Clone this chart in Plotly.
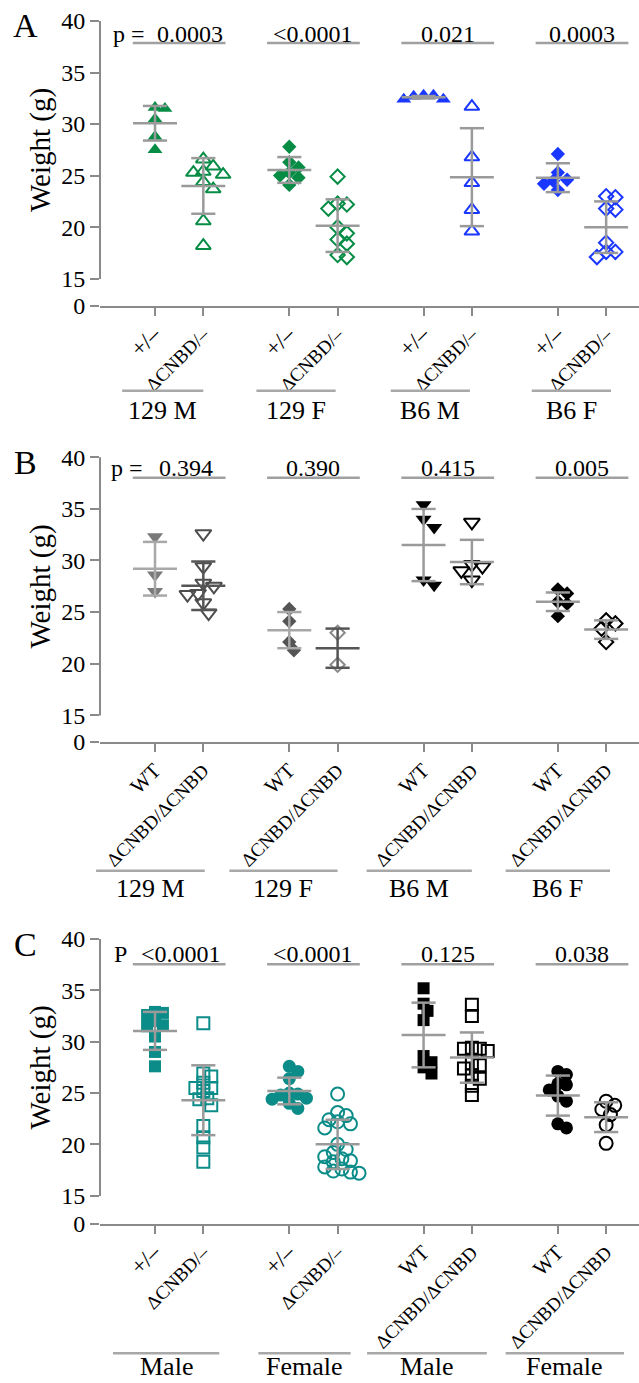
import plotly.graph_objects as go

FIG_W, FIG_H = 639, 1383

# ---------------- data ----------------
# Panel A
A_groups = ["129 M", "129 F", "B6 M", "B6 F"]
A_ticks = ["+/–", "ΔCNBD/–"] * 4
A_prefix = "p ="
A_pvals = ["0.0003", "<0.0001", "0.021", "0.0003"]
A_129M_het = [31.5, 31.6, 30.5, 28.8, 27.5]
A_129M_cnbd = [26.6, 25.4, 25.1, 25.9, 25.3, 24.4, 23.7, 20.6, 18.2]
A_129F_het = [27.8, 26.3, 25.8, 25.3, 25.0, 24.8, 24.1]
A_129F_cnbd = [24.9, 22.2, 21.8, 22.3, 19.4, 20.0, 18.4, 18.8, 17.1, 17.3]
A_B6M_het = [32.8, 32.7, 32.8, 32.4, 32.4]
A_B6M_cnbd = [31.7, 26.8, 24.3, 21.7, 19.6]
A_B6F_het = [27.1, 25.3, 24.5, 24.2, 24.6, 23.6]
A_B6F_cnbd = [22.9, 23.0, 21.7, 21.8, 18.5, 17.6, 17.1, 17.6]
A_means = [30.08, 24.0, 25.55, 20.15, 32.6, 24.85, 24.8, 20.0]
A_sds = [1.68, 2.7, 1.25, 2.55, 0.12, 4.75, 1.4, 2.5]

# Panel B
B_groups = ["129 M", "129 F", "B6 M", "B6 F"]
B_ticks = ["WT", "ΔCNBD/ΔCNBD"] * 4
B_prefix = "p ="
B_pvals = ["0.394", "0.390", "0.415", "0.005"]
B_129M_wt = [32.3, 28.6, 27.0]
B_129M_cnbd = [32.6, 29.4, 27.5, 27.8, 26.7, 26.8, 25.9, 24.9]
B_129F_wt = [25.3, 24.1, 22.1, 21.3]
B_129F_cnbd = [23.0, 19.9]
B_B6M_wt = [35.4, 34.0, 33.2, 27.6, 28.1]
B_B6M_cnbd = [33.7, 29.4, 29.6, 29.0, 28.1]
B_B6F_wt = [27.2, 26.8, 26.0, 25.8, 24.6]
B_B6F_cnbd = [23.9, 24.2, 23.4, 22.1]
B_means = [29.2, 27.55, 23.25, 21.5, 31.5, 29.85, 26.0, 23.3]
B_sds = [2.6, 2.35, 1.75, 1.9, 3.5, 2.15, 0.9, 0.9]

# Panel C
C_groups = ["Male", "Female", "Male", "Female"]
C_ticks = ["+/–", "ΔCNBD/–", "+/–", "ΔCNBD/–", "WT", "ΔCNBD/ΔCNBD", "WT", "ΔCNBD/ΔCNBD"]
C_prefix = "P"
C_pvals = ["<0.0001", "<0.0001", "0.125", "0.038"]
C_male_het = [32.9, 32.6, 32.8, 32.0, 31.6, 31.5, 30.5, 29.0, 27.6]
C_male_cnbd = [31.8, 26.9, 26.6, 25.5, 25.2, 25.5, 26.0, 24.4, 24.5, 23.8, 21.8, 20.7, 19.7, 18.3]
C_female_het = [27.6, 27.1, 26.4, 25.0, 24.9, 24.5, 24.4, 24.0, 23.5, 24.8]
C_female_cnbd = [24.9, 23.1, 22.8, 22.4, 22.2, 22.0, 21.6, 20.0, 19.5, 19.2, 18.8, 18.6,
                 18.4, 18.3, 17.8, 17.6, 17.4, 17.2, 17.3]
C_male_wt = [35.2, 33.7, 33.0, 32.1, 28.6, 28.0, 27.5, 26.9]
C_male_dd = [33.6, 32.5, 29.3, 29.4, 29.3, 29.1, 27.7, 27.9, 27.4, 26.7, 26.4, 25.7, 24.8]
C_female_wt = [26.8, 27.1, 25.8, 25.9, 25.3, 24.7, 24.2, 21.6, 22.0]
C_female_dd = [24.2, 23.8, 23.4, 22.9, 21.9, 20.1]
C_means = [31.05, 24.3, 25.2, 20.0, 30.65, 28.45, 24.75, 22.65]
C_sds = [1.85, 3.4, 1.3, 2.4, 3.15, 2.45, 1.95, 1.45]

# ---------------- styling ----------------
SERIF = "Liberation Serif, Times New Roman, serif"
AXC = "#8a8a8a"
ERRC = "#9a9a9a"
GREEN = "#078c46"
BLUE = "#1a37ff"
TEAL = "#0b8c88"

XMIN, XMAX = -0.139, 11.02
X_DOM = [100 / FIG_W, 1.0]
PX_PER_X = FIG_W * (X_DOM[1] - X_DOM[0]) / (XMAX - XMIN)


def xpos(i):
    return 1 + (i // 2) * 2.78 + (i % 2)


def px_to_x(px):
    return XMIN + (px - X_DOM[0] * FIG_W) / PX_PER_X


SHORT_TICK_SIZE = {"+/–": 23, "WT": 21}


def tick_html(t):
    # the short labels are drawn a little larger, as in the original
    if t in SHORT_TICK_SIZE:
        return '<span style="font-size:%dpx">%s</span>' % (SHORT_TICK_SIZE[t], t)
    return t


def swarm_offsets(vals, ppu, mw):
    d = 0.66 * mw
    order = sorted(range(len(vals)), key=lambda i: -vals[i])
    cands = [0.0]
    for j in range(1, 40):
        cands += [j * d * 0.5, -j * d * 0.5]
    placed, off = [], [0.0] * len(vals)
    for i in order:
        yp = vals[i] * ppu
        for c in cands:
            if all((c - a) ** 2 + (yp - b) ** 2 >= d * d * 0.999 for a, b in placed):
                break
        placed.append((c, yp))
        off[i] = c / PX_PER_X
    return off


panels = [
    dict(name="A", series=[A_129M_het, A_129M_cnbd, A_129F_het, A_129F_cnbd,
                           A_B6M_het, A_B6M_cnbd, A_B6F_het, A_B6F_cnbd],
         means=A_means, sds=A_sds, ticks=A_ticks, groups=A_groups, pvals=A_pvals,
         prefix=A_prefix, prefix_end=147, first_center=190,
         sym=["triangle-up", "triangle-up-open", "diamond", "diamond-open"] * 2,
         size=[13, 13, 11, 11] * 2, mw=[15, 15, 14, 14] * 2,
         col=[GREEN] * 4 + [BLUE] * 4, err=[ERRC] * 8,
         y40=21, ppu=10.32, axis=306,
         pline=22, ptext=12.5,
         gline=390.7, gtext=410, gbottom=False,
         gext=[(-0.68, 0.0), (-0.68, -0.04), (-0.68, -0.04), (-0.54, 0.1)]),
    dict(name="B", series=[B_129M_wt, B_129M_cnbd, B_129F_wt, B_129F_cnbd,
                           B_B6M_wt, B_B6M_cnbd, B_B6F_wt, B_B6F_cnbd],
         means=B_means, sds=B_sds, ticks=B_ticks, groups=B_groups, pvals=B_pvals,
         prefix=B_prefix, prefix_end=145, first_center=186,
         sym=["triangle-down", "triangle-down-open", "diamond", "diamond-open"] * 2,
         size=[14, 14, 11, 11] * 2, mw=[16, 16, 14, 14] * 2,
         col=["#7a7a7a", "#4d4d4d", "#555555", "#8a8a8a", "#000000", "#000000", "#000000", "#000000"],
         err=["#a8a8a8", "#555555", "#a8a8a8", "#555555", ERRC, ERRC, ERRC, ERRC],
         y40=457.3, ppu=10.33, axis=742,
         pline=20.4, ptext=10.5,
         gline=870.7, gtext=888, gbottom=False,
         gext=[(-1.22, 0.03), (-1.24, 0.0), (-1.18, 0.0), (-1.08, 0.08)]),
    dict(name="C", series=[C_male_het, C_male_cnbd, C_female_het, C_female_cnbd,
                           C_male_wt, C_male_dd, C_female_wt, C_female_dd],
         means=C_means, sds=C_sds, ticks=C_ticks, groups=C_groups, pvals=C_pvals,
         prefix=C_prefix, prefix_end=129, first_center=181,
         sym=["square", "square-open", "circle", "circle-open"] * 2,
         size=[12, 12, 13, 13] * 2, mw=[12, 12, 13, 13] * 2,
         col=[TEAL] * 4 + ["#000000"] * 4, err=[ERRC] * 8,
         y40=939, ppu=10.28, axis=1224,
         pline=25.3, ptext=14.5,
         gline=1353.3, gtext=1382, gbottom=True,
         gext=[(-0.87, 0.33), (-0.64, 0.27), (-1.17, 0.31), (-1.08, 0.37)]),
]

fig = go.Figure()
shapes, annotations = [], []


def xdom(x):
    return (x - XMIN) / (XMAX - XMIN)


for pi, P in enumerate(panels):
    sfx = "" if pi == 0 else str(pi + 1)
    xa, ya = "x" + sfx, "y" + sfx
    top_px = P["y40"] - 15
    y15_px = P["y40"] + 25 * P["ppu"]
    ymin = 15 - (P["axis"] - y15_px) / P["ppu"]
    ymax = 40 + 15 / P["ppu"]
    dom = [1 - P["axis"] / FIG_H, 1 - top_px / FIG_H]

    def ydom(py, P=P, top_px=top_px):
        return (P["axis"] - py) / (P["axis"] - top_px)

    def yval_dom(v, ymin=ymin, ymax=ymax):
        return (v - ymin) / (ymax - ymin)

    # points
    for i, vals in enumerate(P["series"]):
        x0 = xpos(i)
        offs = swarm_offsets(vals, P["ppu"], P["mw"][i])
        openm = P["sym"][i].endswith("open")
        fig.add_trace(go.Scatter(
            x=[x0 + o for o in offs], y=vals, mode="markers", xaxis=xa, yaxis=ya,
            showlegend=False, hoverinfo="y", cliponaxis=False,
            marker=dict(symbol=P["sym"][i], size=P["size"][i], color=P["col"][i],
                        line=dict(color=P["col"][i], width=2 if openm else 0))))
    # mean +/- SD
    for i, (m, s) in enumerate(zip(P["means"], P["sds"])):
        x0 = xpos(i)
        fig.add_trace(go.Scatter(
            x=[x0 - 0.455, x0 + 0.455, None, x0 - 0.25, x0 + 0.25, None,
               x0 - 0.25, x0 + 0.25, None, x0, x0],
            y=[m, m, None, m + s, m + s, None, m - s, m - s, None, m - s, m + s],
            mode="lines", xaxis=xa, yaxis=ya, showlegend=False, hoverinfo="skip",
            line=dict(color=P["err"][i], width=2.5)))

    fig.update_layout(**{
        "xaxis" + sfx: dict(domain=X_DOM, anchor=ya, range=[XMIN, XMAX], automargin=False,
                            tickmode="array", tickvals=[xpos(i) for i in range(8)],
                            ticktext=[tick_html(t) for t in P["ticks"]], tickangle=-45,
                            tickfont=dict(family=SERIF, size=19, color="black"),
                            ticks="outside", ticklen=8, tickwidth=2, tickcolor=AXC,
                            showline=True, linecolor=AXC, linewidth=2,
                            showgrid=False, zeroline=False, fixedrange=True),
        "yaxis" + sfx: dict(domain=dom, anchor=xa, range=[ymin - 0.03, ymax], automargin=False,
                            tickmode="array", tickvals=[ymin, 15, 20, 25, 30, 35, 40],
                            ticktext=["0", "15", "20", "25", "30", "35", "40"],
                            tickfont=dict(family=SERIF, size=24, color="black"),
                            ticks="outside", ticklen=9, tickwidth=2, tickcolor=AXC,
                            showline=False, showgrid=False, zeroline=False,
                            fixedrange=True),
    })

    xd, yd = xa + " domain", ya + " domain"
    # y spine 15..40
    shapes.append(dict(type="line", xref=xd, yref=yd, x0=0, x1=0,
                       y0=yval_dom(15), y1=yval_dom(40),
                       line=dict(color=AXC, width=2)))
    pfont = dict(family=SERIF, size=24, color="black")
    # p-value prefix
    annotations.append(dict(xref=xd, yref=yd, x=xdom(px_to_x(P["prefix_end"])),
                            y=ydom(P["y40"] + P["ptext"]), text=P["prefix"],
                            showarrow=False, xanchor="right", yanchor="middle", font=pfont))
    for g in range(4):
        x1, x2 = xpos(2 * g), xpos(2 * g + 1)
        shapes.append(dict(type="line", xref=xd, yref=yd,
                           x0=xdom(x1 - 0.46), x1=xdom(x2 + 0.46),
                           y0=ydom(P["y40"] + P["pline"]), y1=ydom(P["y40"] + P["pline"]),
                           line=dict(color="#a0a0a0", width=2.5)))
        cx = px_to_x(P["first_center"]) if g == 0 else (x1 + x2) / 2
        annotations.append(dict(xref=xd, yref=yd, x=xdom(cx), y=ydom(P["y40"] + P["ptext"]),
                                text=P["pvals"][g], showarrow=False, xanchor="center",
                                yanchor="middle", font=pfont))
        # group lines and labels
        lo, hi = P["gext"][g]
        shapes.append(dict(type="line", xref=xd, yref=yd,
                           x0=xdom(x1 + lo), x1=xdom(x2 + hi),
                           y0=ydom(P["gline"]), y1=ydom(P["gline"]),
                           line=dict(color="#a8a8a8", width=2.5)))
        annotations.append(dict(xref=xd, yref=yd, x=xdom((x1 + lo + x2 + hi) / 2),
                                y=ydom(P["gtext"]), text=P["groups"][g],
                                showarrow=False, xanchor="center",
                                yanchor="bottom" if P["gbottom"] else "middle",
                                borderpad=0,
                                font=dict(family=SERIF, size=26, color="black")))
    # y title
    annotations.append(dict(xref="paper", yref=yd, x=40 / FIG_W, y=yval_dom(27.5),
                            text="Weight (g)", textangle=-90, showarrow=False,
                            xanchor="center", yanchor="middle",
                            font=dict(family=SERIF, size=29, color="black")))
    # panel letter
    annotations.append(dict(xref="paper", yref="paper", x=25 / FIG_W,
                            y=1 - (P["y40"] + 5) / FIG_H, text=P["name"],
                            showarrow=False, xanchor="center", yanchor="middle",
                            font=dict(family=SERIF, size=34, color="black")))

fig.update_layout(width=FIG_W, height=FIG_H, autosize=False,
                  margin=dict(l=0, r=0, t=0, b=0, pad=0),
                  paper_bgcolor="white", plot_bgcolor="white",
                  shapes=shapes, annotations=annotations, showlegend=False)

fig.write_html("out.html", config={"displayModeBar": False},
               post_script="document.body.style.margin='0';document.body.style.padding='0';"
                           "document.documentElement.style.overflow='hidden';")
